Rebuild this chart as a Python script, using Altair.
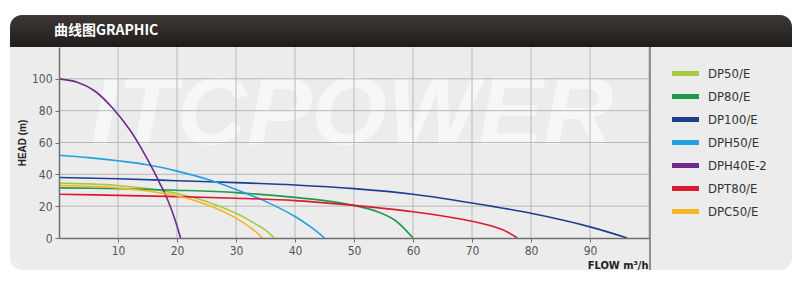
import altair as alt
import pandas as pd

# ---- data (flow m3/h, head m) ----
series_order = ["DP50/E", "DP80/E", "DP100/E", "DPH50/E", "DPH40E-2", "DPT80/E", "DPC50/E"]
series_colors = ["#a9c93f", "#1f9a4a", "#1c3f90", "#22a0e0", "#6b2a8c", "#dc1a2f", "#f4b526"]

dp50_q = [0, 5, 10, 15, 20, 25, 30, 33, 35, 36.5]
dp50_h = [34.5, 34, 33, 31, 28, 23, 15.5, 9.5, 5, 0]

dp80_q = [0, 10, 20, 30, 40, 45, 50, 54, 57, 60]
dp80_h = [31.5, 31, 30, 28.5, 25.5, 23.5, 20.5, 16.5, 11, 0]

dp100_q = [0, 10, 20, 30, 40, 50, 60, 70, 80, 90, 96.3]
dp100_h = [38, 37.2, 36, 34.8, 33.3, 31, 27.5, 22, 15.5, 7, 0]

dph50_q = [0, 5, 10, 15, 20, 25, 30, 35, 40, 43, 45]
dph50_h = [52, 50.5, 48.5, 46, 42, 37, 30.5, 23, 13.5, 6, 0]

dph40_q = [0, 3, 6, 9, 12, 14, 16, 17, 18, 19, 20, 20.6]
dph40_h = [100, 98, 92.5, 82, 68, 56, 42.5, 35, 27.5, 18.5, 7.5, 0]

dpt80_q = [0, 10, 20, 30, 40, 50, 60, 70, 75, 77.7]
dpt80_h = [27.5, 26.8, 26, 25, 23.5, 20.5, 16.5, 10.5, 5.5, 0]

dpc50_q = [0, 5, 10, 15, 20, 25, 30, 33, 34.5]
dpc50_h = [33, 32.5, 31.5, 29.5, 26.5, 21, 12.5, 5, 0]

x_ticks = [10, 20, 30, 40, 50, 60, 70, 80, 90]
y_ticks = [0, 20, 40, 60, 80, 100]
x_grid = [10, 20, 30, 40, 50, 60, 70, 80, 90, 100]
y_grid = [20, 40, 60, 80, 100]

series = [
    ("DP50/E", dp50_q, dp50_h),
    ("DP80/E", dp80_q, dp80_h),
    ("DP100/E", dp100_q, dp100_h),
    ("DPH50/E", dph50_q, dph50_h),
    ("DPH40E-2", dph40_q, dph40_h),
    ("DPT80/E", dpt80_q, dpt80_h),
    ("DPC50/E", dpc50_q, dpc50_h),
]
rows = []
for name, qs, hs in series:
    for i, (q, h) in enumerate(zip(qs, hs)):
        rows.append({"model": name, "flow": q, "head": h, "i": i})
df = pd.DataFrame(rows)

W, H = 590, 191
NARROW = "Liberation Sans Narrow, DejaVu Sans Condensed, Liberation Sans, sans-serif"
XS = alt.Scale(domain=[0, 100], nice=False, zero=True)
YS = alt.Scale(domain=[0, 120], nice=False)

X_AXIS = alt.Axis(values=x_ticks, title="FLOW m³/h", grid=False, zindex=1,
                  labelOverlap=False,
                  titleAnchor="end", titleAlign="right", titleX=589, titleY=30,
                  titleBaseline="alphabetic", titleFontSize=11, titleFontWeight="bold",
                  titleFont=NARROW, titleColor="#222")
Y_AXIS = alt.Axis(values=y_ticks, title="HEAD (m)", grid=False, zindex=1,
                  labelOverlap=False,
                  titleFontSize=10, titleFontWeight="bold", titleColor="#222",
                  titleFont="Liberation Sans, sans-serif", titlePadding=4)

one = pd.DataFrame({"k": [0]})

panel = alt.Chart(one).mark_rect(fill="#ececec", cornerRadius=12).encode(
    x=alt.value(-49), x2=alt.value(733), y=alt.value(-32), y2=alt.value(223)
)
header = alt.Chart(one).mark_rect(
    fill=alt.Gradient(gradient="linear", x1=0, x2=0, y1=0, y2=1,
                      stops=[alt.GradientStop(color="#3e3936", offset=0),
                             alt.GradientStop(color="#1f1c1b", offset=1)]),
    cornerRadiusTopLeft=12, cornerRadiusTopRight=12,
).encode(x=alt.value(-49), x2=alt.value(733), y=alt.value(-32), y2=alt.value(0))

title = alt.Chart(one).mark_text(
    text="曲线图GRAPHIC", color="white", fontSize=14, fontWeight="bold",
    font="Noto Sans CJK SC", align="left", baseline="middle",
).encode(x=alt.value(-5), y=alt.value(-16))

watermark = alt.Chart(one).mark_text(
    text="ITCPOWER", color="white", opacity=0.6, fontSize=97, fontWeight="bold",
    fontStyle="italic", font="Liberation Sans, sans-serif",
    align="center", baseline="alphabetic",
).encode(x=alt.value(293), y=alt.value(97))

xgrid = alt.Chart(pd.DataFrame({"g": x_grid})).mark_rule(color="#b8b8b8", strokeWidth=1).encode(
    x=alt.X("g:Q", scale=XS, axis=X_AXIS), y=alt.value(0), y2=alt.value(H)
)
ygrid = alt.Chart(pd.DataFrame({"g": y_grid})).mark_rule(color="#b8b8b8", strokeWidth=1).encode(
    y=alt.Y("g:Q", scale=YS, axis=Y_AXIS), x=alt.value(0), x2=alt.value(W)
)

separator = alt.Chart(one).mark_rule(color="#8f8f8f", strokeWidth=2).encode(
    x=alt.value(591), y=alt.value(0), y2=alt.value(223)
)

lines = alt.Chart(df).mark_line(interpolate="catmull-rom", strokeWidth=1.6).encode(
    x=alt.X("flow:Q", scale=XS, axis=X_AXIS),
    y=alt.Y("head:Q", scale=YS, axis=Y_AXIS),
    color=alt.Color("model:N", scale=alt.Scale(domain=series_order, range=series_colors),
                    sort=series_order,
                    legend=alt.Legend(title=None, orient="none", legendX=617, legendY=17,
                                      symbolType="M-2,0H2", symbolSize=182,
                                      symbolStrokeWidth=5, labelFontSize=13,
                                      labelFont=NARROW, labelColor="#333",
                                      labelOffset=13, rowPadding=2, padding=0)),
    order="i:Q",
    detail="model:N",
)

chart = alt.layer(panel, header, title, watermark, xgrid, ygrid, separator, lines).properties(
    width=W, height=H,
    autosize=alt.AutoSizeParams(type="none"),
    padding={"left": 59, "top": 47, "right": 151, "bottom": 53},
    background="white",
).configure_view(stroke=None).configure_axis(
    domainColor="#707070", domainWidth=1.5,
    tickColor="#707070", tickSize=4, labelColor="#555", labelFont=NARROW,
    labelFontSize=12, labelPadding=3,
)

chart.save("out.html", embed_options={"renderer": "svg", "actions": False})
